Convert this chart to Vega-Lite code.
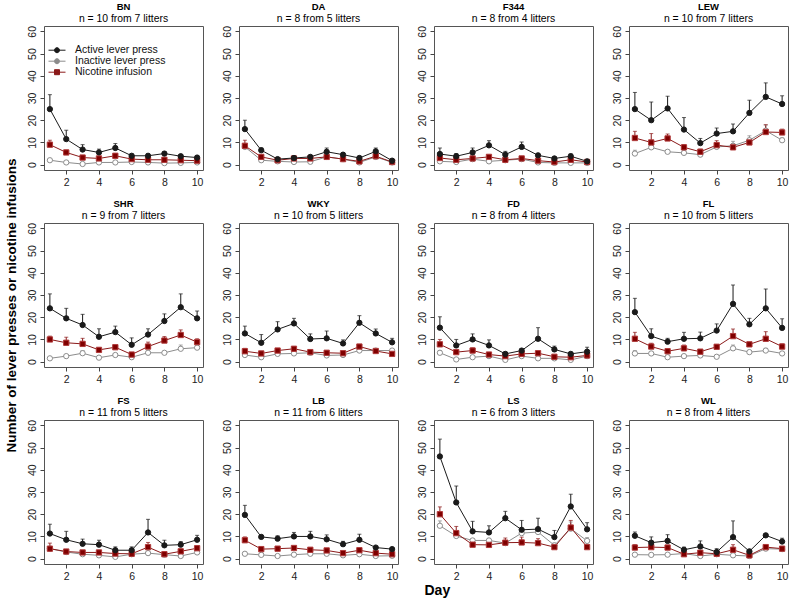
{
  "$schema": "https://vega.github.io/schema/vega-lite/v6.json",
  "padding": {"left": 3, "top": 1, "right": 5, "bottom": 2},
  "bounds": "flush",
  "columns": 4,
  "spacing": {"column": 36, "row": 53},
  "datasets": {
    "rats": [
      {"strain":"BN","day":1,"series":"Inactive lever press","mean":2,"upper":2.5},
      {"strain":"BN","day":2,"series":"Inactive lever press","mean":1,"upper":1.4},
      {"strain":"BN","day":3,"series":"Inactive lever press","mean":0.3,"upper":0.7},
      {"strain":"BN","day":4,"series":"Inactive lever press","mean":1,"upper":1.4},
      {"strain":"BN","day":5,"series":"Inactive lever press","mean":1,"upper":1.4},
      {"strain":"BN","day":6,"series":"Inactive lever press","mean":1.2,"upper":1.6},
      {"strain":"BN","day":7,"series":"Inactive lever press","mean":1,"upper":1.4},
      {"strain":"BN","day":8,"series":"Inactive lever press","mean":0.7,"upper":1.1},
      {"strain":"BN","day":9,"series":"Inactive lever press","mean":0.8,"upper":1.2},
      {"strain":"BN","day":10,"series":"Inactive lever press","mean":1,"upper":1.4},
      {"strain":"BN","day":1,"series":"Nicotine infusion","mean":9,"upper":11},
      {"strain":"BN","day":2,"series":"Nicotine infusion","mean":5.5,"upper":6.5},
      {"strain":"BN","day":3,"series":"Nicotine infusion","mean":3.2,"upper":4},
      {"strain":"BN","day":4,"series":"Nicotine infusion","mean":2.8,"upper":3.5},
      {"strain":"BN","day":5,"series":"Nicotine infusion","mean":4,"upper":5},
      {"strain":"BN","day":6,"series":"Nicotine infusion","mean":2.5,"upper":3},
      {"strain":"BN","day":7,"series":"Nicotine infusion","mean":2.2,"upper":2.8},
      {"strain":"BN","day":8,"series":"Nicotine infusion","mean":2.2,"upper":3},
      {"strain":"BN","day":9,"series":"Nicotine infusion","mean":2,"upper":2.6},
      {"strain":"BN","day":10,"series":"Nicotine infusion","mean":1.8,"upper":2.3},
      {"strain":"BN","day":1,"series":"Active lever press","mean":25,"upper":31.5},
      {"strain":"BN","day":2,"series":"Active lever press","mean":11.5,"upper":15.5},
      {"strain":"BN","day":3,"series":"Active lever press","mean":6.8,"upper":9},
      {"strain":"BN","day":4,"series":"Active lever press","mean":5.5,"upper":7},
      {"strain":"BN","day":5,"series":"Active lever press","mean":7.5,"upper":9.5},
      {"strain":"BN","day":6,"series":"Active lever press","mean":4,"upper":4.8},
      {"strain":"BN","day":7,"series":"Active lever press","mean":4,"upper":4.8},
      {"strain":"BN","day":8,"series":"Active lever press","mean":5,"upper":5.8},
      {"strain":"BN","day":9,"series":"Active lever press","mean":3.8,"upper":4.5},
      {"strain":"BN","day":10,"series":"Active lever press","mean":3.2,"upper":4},

      {"strain":"DA","day":1,"series":"Inactive lever press","mean":8,"upper":9},
      {"strain":"DA","day":2,"series":"Inactive lever press","mean":2,"upper":2.5},
      {"strain":"DA","day":3,"series":"Inactive lever press","mean":1.5,"upper":1.9},
      {"strain":"DA","day":4,"series":"Inactive lever press","mean":1.2,"upper":1.6},
      {"strain":"DA","day":5,"series":"Inactive lever press","mean":1.3,"upper":1.7},
      {"strain":"DA","day":6,"series":"Inactive lever press","mean":3.5,"upper":4.2},
      {"strain":"DA","day":7,"series":"Inactive lever press","mean":2.5,"upper":3},
      {"strain":"DA","day":8,"series":"Inactive lever press","mean":1,"upper":1.4},
      {"strain":"DA","day":9,"series":"Inactive lever press","mean":3.5,"upper":4},
      {"strain":"DA","day":10,"series":"Inactive lever press","mean":1,"upper":1.4},
      {"strain":"DA","day":1,"series":"Nicotine infusion","mean":8.5,"upper":11},
      {"strain":"DA","day":2,"series":"Nicotine infusion","mean":3.5,"upper":4.2},
      {"strain":"DA","day":3,"series":"Nicotine infusion","mean":2,"upper":2.5},
      {"strain":"DA","day":4,"series":"Nicotine infusion","mean":2.8,"upper":3.3},
      {"strain":"DA","day":5,"series":"Nicotine infusion","mean":2.8,"upper":3.5},
      {"strain":"DA","day":6,"series":"Nicotine infusion","mean":3.5,"upper":4.5},
      {"strain":"DA","day":7,"series":"Nicotine infusion","mean":2.5,"upper":3},
      {"strain":"DA","day":8,"series":"Nicotine infusion","mean":1.5,"upper":2},
      {"strain":"DA","day":9,"series":"Nicotine infusion","mean":3.8,"upper":4.8},
      {"strain":"DA","day":10,"series":"Nicotine infusion","mean":1.2,"upper":1.8},
      {"strain":"DA","day":1,"series":"Active lever press","mean":16,"upper":20},
      {"strain":"DA","day":2,"series":"Active lever press","mean":6.5,"upper":7.5},
      {"strain":"DA","day":3,"series":"Active lever press","mean":2.5,"upper":3},
      {"strain":"DA","day":4,"series":"Active lever press","mean":3,"upper":3.6},
      {"strain":"DA","day":5,"series":"Active lever press","mean":3.5,"upper":4.2},
      {"strain":"DA","day":6,"series":"Active lever press","mean":5.8,"upper":7.5},
      {"strain":"DA","day":7,"series":"Active lever press","mean":4.5,"upper":5.2},
      {"strain":"DA","day":8,"series":"Active lever press","mean":3,"upper":3.8},
      {"strain":"DA","day":9,"series":"Active lever press","mean":6,"upper":7.5},
      {"strain":"DA","day":10,"series":"Active lever press","mean":1.8,"upper":2.2},

      {"strain":"F344","day":1,"series":"Inactive lever press","mean":1.5,"upper":2.2},
      {"strain":"F344","day":2,"series":"Inactive lever press","mean":1.2,"upper":1.6},
      {"strain":"F344","day":3,"series":"Inactive lever press","mean":2.5,"upper":3},
      {"strain":"F344","day":4,"series":"Inactive lever press","mean":1.5,"upper":1.9},
      {"strain":"F344","day":5,"series":"Inactive lever press","mean":2,"upper":2.4},
      {"strain":"F344","day":6,"series":"Inactive lever press","mean":2.5,"upper":2.9},
      {"strain":"F344","day":7,"series":"Inactive lever press","mean":1,"upper":1.4},
      {"strain":"F344","day":8,"series":"Inactive lever press","mean":0.8,"upper":1.2},
      {"strain":"F344","day":9,"series":"Inactive lever press","mean":0.8,"upper":1.2},
      {"strain":"F344","day":10,"series":"Inactive lever press","mean":0.8,"upper":1.2},
      {"strain":"F344","day":1,"series":"Nicotine infusion","mean":3,"upper":4.5},
      {"strain":"F344","day":2,"series":"Nicotine infusion","mean":2.2,"upper":3},
      {"strain":"F344","day":3,"series":"Nicotine infusion","mean":2.8,"upper":3.5},
      {"strain":"F344","day":4,"series":"Nicotine infusion","mean":3.5,"upper":4.2},
      {"strain":"F344","day":5,"series":"Nicotine infusion","mean":2.2,"upper":2.8},
      {"strain":"F344","day":6,"series":"Nicotine infusion","mean":2.8,"upper":3.3},
      {"strain":"F344","day":7,"series":"Nicotine infusion","mean":1.8,"upper":2.3},
      {"strain":"F344","day":8,"series":"Nicotine infusion","mean":1.2,"upper":1.6},
      {"strain":"F344","day":9,"series":"Nicotine infusion","mean":2.2,"upper":3},
      {"strain":"F344","day":10,"series":"Nicotine infusion","mean":1.2,"upper":1.6},
      {"strain":"F344","day":1,"series":"Active lever press","mean":4.8,"upper":7.5},
      {"strain":"F344","day":2,"series":"Active lever press","mean":3.8,"upper":5},
      {"strain":"F344","day":3,"series":"Active lever press","mean":5.5,"upper":7.5},
      {"strain":"F344","day":4,"series":"Active lever press","mean":8.7,"upper":10.8},
      {"strain":"F344","day":5,"series":"Active lever press","mean":4.5,"upper":6},
      {"strain":"F344","day":6,"series":"Active lever press","mean":8,"upper":10.2},
      {"strain":"F344","day":7,"series":"Active lever press","mean":4.2,"upper":5},
      {"strain":"F344","day":8,"series":"Active lever press","mean":2.8,"upper":3.5},
      {"strain":"F344","day":9,"series":"Active lever press","mean":3.8,"upper":4.8},
      {"strain":"F344","day":10,"series":"Active lever press","mean":1.5,"upper":2},

      {"strain":"LEW","day":1,"series":"Inactive lever press","mean":5,"upper":6.5},
      {"strain":"LEW","day":2,"series":"Inactive lever press","mean":7.8,"upper":8.5},
      {"strain":"LEW","day":3,"series":"Inactive lever press","mean":5.8,"upper":6.5},
      {"strain":"LEW","day":4,"series":"Inactive lever press","mean":5.3,"upper":5.8},
      {"strain":"LEW","day":5,"series":"Inactive lever press","mean":4.5,"upper":5},
      {"strain":"LEW","day":6,"series":"Inactive lever press","mean":8,"upper":9.2},
      {"strain":"LEW","day":7,"series":"Inactive lever press","mean":8.5,"upper":10.5},
      {"strain":"LEW","day":8,"series":"Inactive lever press","mean":11,"upper":13},
      {"strain":"LEW","day":9,"series":"Inactive lever press","mean":15.3,"upper":17.8},
      {"strain":"LEW","day":10,"series":"Inactive lever press","mean":11,"upper":12},
      {"strain":"LEW","day":1,"series":"Nicotine infusion","mean":12,"upper":15},
      {"strain":"LEW","day":2,"series":"Nicotine infusion","mean":10,"upper":14},
      {"strain":"LEW","day":3,"series":"Nicotine infusion","mean":11.8,"upper":13.8},
      {"strain":"LEW","day":4,"series":"Nicotine infusion","mean":7.8,"upper":9},
      {"strain":"LEW","day":5,"series":"Nicotine infusion","mean":5.8,"upper":7},
      {"strain":"LEW","day":6,"series":"Nicotine infusion","mean":8.8,"upper":10.8},
      {"strain":"LEW","day":7,"series":"Nicotine infusion","mean":7.8,"upper":9.5},
      {"strain":"LEW","day":8,"series":"Nicotine infusion","mean":10,"upper":11.8},
      {"strain":"LEW","day":9,"series":"Nicotine infusion","mean":14.7,"upper":18},
      {"strain":"LEW","day":10,"series":"Nicotine infusion","mean":14.5,"upper":16},
      {"strain":"LEW","day":1,"series":"Active lever press","mean":25,"upper":32.5},
      {"strain":"LEW","day":2,"series":"Active lever press","mean":20,"upper":28.2},
      {"strain":"LEW","day":3,"series":"Active lever press","mean":25.3,"upper":30.8},
      {"strain":"LEW","day":4,"series":"Active lever press","mean":15.8,"upper":21.2},
      {"strain":"LEW","day":5,"series":"Active lever press","mean":9.7,"upper":11.8},
      {"strain":"LEW","day":6,"series":"Active lever press","mean":14,"upper":16.5},
      {"strain":"LEW","day":7,"series":"Active lever press","mean":15,"upper":18.3},
      {"strain":"LEW","day":8,"series":"Active lever press","mean":23.3,"upper":29},
      {"strain":"LEW","day":9,"series":"Active lever press","mean":30.5,"upper":36.8},
      {"strain":"LEW","day":10,"series":"Active lever press","mean":27.3,"upper":31},

      {"strain":"SHR","day":1,"series":"Inactive lever press","mean":1.5,"upper":2},
      {"strain":"SHR","day":2,"series":"Inactive lever press","mean":2.5,"upper":3},
      {"strain":"SHR","day":3,"series":"Inactive lever press","mean":3.8,"upper":5},
      {"strain":"SHR","day":4,"series":"Inactive lever press","mean":1.8,"upper":2.2},
      {"strain":"SHR","day":5,"series":"Inactive lever press","mean":3,"upper":3.5},
      {"strain":"SHR","day":6,"series":"Inactive lever press","mean":2,"upper":2.5},
      {"strain":"SHR","day":7,"series":"Inactive lever press","mean":4,"upper":4.5},
      {"strain":"SHR","day":8,"series":"Inactive lever press","mean":4,"upper":4.5},
      {"strain":"SHR","day":9,"series":"Inactive lever press","mean":5.8,"upper":7.5},
      {"strain":"SHR","day":10,"series":"Inactive lever press","mean":6.3,"upper":7},
      {"strain":"SHR","day":1,"series":"Nicotine infusion","mean":10,"upper":11.5},
      {"strain":"SHR","day":2,"series":"Nicotine infusion","mean":8.5,"upper":11},
      {"strain":"SHR","day":3,"series":"Nicotine infusion","mean":8,"upper":10.5},
      {"strain":"SHR","day":4,"series":"Nicotine infusion","mean":5.3,"upper":6},
      {"strain":"SHR","day":5,"series":"Nicotine infusion","mean":6.5,"upper":7.3},
      {"strain":"SHR","day":6,"series":"Nicotine infusion","mean":3.2,"upper":4},
      {"strain":"SHR","day":7,"series":"Nicotine infusion","mean":6.8,"upper":8.8},
      {"strain":"SHR","day":8,"series":"Nicotine infusion","mean":9.5,"upper":11.3},
      {"strain":"SHR","day":9,"series":"Nicotine infusion","mean":12,"upper":14.3},
      {"strain":"SHR","day":10,"series":"Nicotine infusion","mean":8.8,"upper":10.3},
      {"strain":"SHR","day":1,"series":"Active lever press","mean":24,"upper":30.5},
      {"strain":"SHR","day":2,"series":"Active lever press","mean":19.5,"upper":24},
      {"strain":"SHR","day":3,"series":"Active lever press","mean":16.5,"upper":21.3},
      {"strain":"SHR","day":4,"series":"Active lever press","mean":11.2,"upper":14.8},
      {"strain":"SHR","day":5,"series":"Active lever press","mean":13.3,"upper":16},
      {"strain":"SHR","day":6,"series":"Active lever press","mean":7.6,"upper":10.7},
      {"strain":"SHR","day":7,"series":"Active lever press","mean":12.2,"upper":14.8},
      {"strain":"SHR","day":8,"series":"Active lever press","mean":18.3,"upper":21.5},
      {"strain":"SHR","day":9,"series":"Active lever press","mean":24.5,"upper":30.5},
      {"strain":"SHR","day":10,"series":"Active lever press","mean":19.5,"upper":22.8},

      {"strain":"WKY","day":1,"series":"Inactive lever press","mean":3,"upper":3.8},
      {"strain":"WKY","day":2,"series":"Inactive lever press","mean":2,"upper":2.4},
      {"strain":"WKY","day":3,"series":"Inactive lever press","mean":3.5,"upper":3.9},
      {"strain":"WKY","day":4,"series":"Inactive lever press","mean":3.7,"upper":4.1},
      {"strain":"WKY","day":5,"series":"Inactive lever press","mean":4,"upper":4.4},
      {"strain":"WKY","day":6,"series":"Inactive lever press","mean":2.8,"upper":3.2},
      {"strain":"WKY","day":7,"series":"Inactive lever press","mean":3,"upper":3.4},
      {"strain":"WKY","day":8,"series":"Inactive lever press","mean":5,"upper":5.4},
      {"strain":"WKY","day":9,"series":"Inactive lever press","mean":5,"upper":5.4},
      {"strain":"WKY","day":10,"series":"Inactive lever press","mean":5,"upper":5.4},
      {"strain":"WKY","day":1,"series":"Nicotine infusion","mean":4.7,"upper":6},
      {"strain":"WKY","day":2,"series":"Nicotine infusion","mean":3.7,"upper":4.5},
      {"strain":"WKY","day":3,"series":"Nicotine infusion","mean":5,"upper":5.8},
      {"strain":"WKY","day":4,"series":"Nicotine infusion","mean":5.8,"upper":6.8},
      {"strain":"WKY","day":5,"series":"Nicotine infusion","mean":4.3,"upper":5},
      {"strain":"WKY","day":6,"series":"Nicotine infusion","mean":4,"upper":4.8},
      {"strain":"WKY","day":7,"series":"Nicotine infusion","mean":3.8,"upper":4.3},
      {"strain":"WKY","day":8,"series":"Nicotine infusion","mean":6.8,"upper":7.5},
      {"strain":"WKY","day":9,"series":"Nicotine infusion","mean":4.8,"upper":5.5},
      {"strain":"WKY","day":10,"series":"Nicotine infusion","mean":3.5,"upper":4.5},
      {"strain":"WKY","day":1,"series":"Active lever press","mean":12.7,"upper":16},
      {"strain":"WKY","day":2,"series":"Active lever press","mean":8.5,"upper":12.2},
      {"strain":"WKY","day":3,"series":"Active lever press","mean":14.5,"upper":18},
      {"strain":"WKY","day":4,"series":"Active lever press","mean":17.2,"upper":19.5},
      {"strain":"WKY","day":5,"series":"Active lever press","mean":10.2,"upper":12.5},
      {"strain":"WKY","day":6,"series":"Active lever press","mean":10.5,"upper":13.8},
      {"strain":"WKY","day":7,"series":"Active lever press","mean":8.2,"upper":9.8},
      {"strain":"WKY","day":8,"series":"Active lever press","mean":17.5,"upper":20.7},
      {"strain":"WKY","day":9,"series":"Active lever press","mean":12.7,"upper":14.7},
      {"strain":"WKY","day":10,"series":"Active lever press","mean":8.7,"upper":10.5},

      {"strain":"FD","day":1,"series":"Inactive lever press","mean":4,"upper":5},
      {"strain":"FD","day":2,"series":"Inactive lever press","mean":1,"upper":1.4},
      {"strain":"FD","day":3,"series":"Inactive lever press","mean":2,"upper":2.4},
      {"strain":"FD","day":4,"series":"Inactive lever press","mean":2.5,"upper":2.9},
      {"strain":"FD","day":5,"series":"Inactive lever press","mean":0.8,"upper":1.2},
      {"strain":"FD","day":6,"series":"Inactive lever press","mean":2.5,"upper":2.9},
      {"strain":"FD","day":7,"series":"Inactive lever press","mean":1.5,"upper":1.9},
      {"strain":"FD","day":8,"series":"Inactive lever press","mean":1.5,"upper":1.9},
      {"strain":"FD","day":9,"series":"Inactive lever press","mean":0.8,"upper":1.2},
      {"strain":"FD","day":10,"series":"Inactive lever press","mean":2.5,"upper":2.9},
      {"strain":"FD","day":1,"series":"Nicotine infusion","mean":7.8,"upper":10},
      {"strain":"FD","day":2,"series":"Nicotine infusion","mean":4.3,"upper":5.5},
      {"strain":"FD","day":3,"series":"Nicotine infusion","mean":5,"upper":6.2},
      {"strain":"FD","day":4,"series":"Nicotine infusion","mean":3.2,"upper":4},
      {"strain":"FD","day":5,"series":"Nicotine infusion","mean":2.5,"upper":3},
      {"strain":"FD","day":6,"series":"Nicotine infusion","mean":3.5,"upper":4},
      {"strain":"FD","day":7,"series":"Nicotine infusion","mean":3.8,"upper":4.5},
      {"strain":"FD","day":8,"series":"Nicotine infusion","mean":2.2,"upper":2.8},
      {"strain":"FD","day":9,"series":"Nicotine infusion","mean":2,"upper":2.5},
      {"strain":"FD","day":10,"series":"Nicotine infusion","mean":2.8,"upper":3.5},
      {"strain":"FD","day":1,"series":"Active lever press","mean":15.3,"upper":20.2},
      {"strain":"FD","day":2,"series":"Active lever press","mean":7.3,"upper":10},
      {"strain":"FD","day":3,"series":"Active lever press","mean":10,"upper":12.5},
      {"strain":"FD","day":4,"series":"Active lever press","mean":7.3,"upper":9.8},
      {"strain":"FD","day":5,"series":"Active lever press","mean":3.5,"upper":4.3},
      {"strain":"FD","day":6,"series":"Active lever press","mean":5,"upper":5.8},
      {"strain":"FD","day":7,"series":"Active lever press","mean":10.3,"upper":15.3},
      {"strain":"FD","day":8,"series":"Active lever press","mean":5.5,"upper":7},
      {"strain":"FD","day":9,"series":"Active lever press","mean":3.5,"upper":4.2},
      {"strain":"FD","day":10,"series":"Active lever press","mean":4.5,"upper":6.5},

      {"strain":"FL","day":1,"series":"Inactive lever press","mean":3.7,"upper":5},
      {"strain":"FL","day":2,"series":"Inactive lever press","mean":3.7,"upper":4.2},
      {"strain":"FL","day":3,"series":"Inactive lever press","mean":2,"upper":2.5},
      {"strain":"FL","day":4,"series":"Inactive lever press","mean":2.5,"upper":3},
      {"strain":"FL","day":5,"series":"Inactive lever press","mean":2.8,"upper":3.3},
      {"strain":"FL","day":6,"series":"Inactive lever press","mean":2.2,"upper":2.7},
      {"strain":"FL","day":7,"series":"Inactive lever press","mean":6,"upper":7.5},
      {"strain":"FL","day":8,"series":"Inactive lever press","mean":4.3,"upper":5},
      {"strain":"FL","day":9,"series":"Inactive lever press","mean":5,"upper":6},
      {"strain":"FL","day":10,"series":"Inactive lever press","mean":3.7,"upper":4.5},
      {"strain":"FL","day":1,"series":"Nicotine infusion","mean":10.3,"upper":13.2},
      {"strain":"FL","day":2,"series":"Nicotine infusion","mean":6.8,"upper":8.3},
      {"strain":"FL","day":3,"series":"Nicotine infusion","mean":4.7,"upper":5.5},
      {"strain":"FL","day":4,"series":"Nicotine infusion","mean":6,"upper":7.5},
      {"strain":"FL","day":5,"series":"Nicotine infusion","mean":4.5,"upper":5.2},
      {"strain":"FL","day":6,"series":"Nicotine infusion","mean":6.7,"upper":7.5},
      {"strain":"FL","day":7,"series":"Nicotine infusion","mean":11.5,"upper":14.7},
      {"strain":"FL","day":8,"series":"Nicotine infusion","mean":7.8,"upper":8.5},
      {"strain":"FL","day":9,"series":"Nicotine infusion","mean":10.3,"upper":13.5},
      {"strain":"FL","day":10,"series":"Nicotine infusion","mean":6.8,"upper":8},
      {"strain":"FL","day":1,"series":"Active lever press","mean":22.3,"upper":28.5},
      {"strain":"FL","day":2,"series":"Active lever press","mean":11.5,"upper":14.8},
      {"strain":"FL","day":3,"series":"Active lever press","mean":9,"upper":10.5},
      {"strain":"FL","day":4,"series":"Active lever press","mean":10.3,"upper":13.2},
      {"strain":"FL","day":5,"series":"Active lever press","mean":10.5,"upper":13.3},
      {"strain":"FL","day":6,"series":"Active lever press","mean":14,"upper":17},
      {"strain":"FL","day":7,"series":"Active lever press","mean":26,"upper":34.5},
      {"strain":"FL","day":8,"series":"Active lever press","mean":16.8,"upper":19.5},
      {"strain":"FL","day":9,"series":"Active lever press","mean":24,"upper":32.7},
      {"strain":"FL","day":10,"series":"Active lever press","mean":15.2,"upper":19.3},

      {"strain":"FS","day":1,"series":"Inactive lever press","mean":4.5,"upper":5.5},
      {"strain":"FS","day":2,"series":"Inactive lever press","mean":3,"upper":3.5},
      {"strain":"FS","day":3,"series":"Inactive lever press","mean":2,"upper":2.4},
      {"strain":"FS","day":4,"series":"Inactive lever press","mean":1.5,"upper":1.9},
      {"strain":"FS","day":5,"series":"Inactive lever press","mean":0.8,"upper":1.2},
      {"strain":"FS","day":6,"series":"Inactive lever press","mean":2,"upper":2.4},
      {"strain":"FS","day":7,"series":"Inactive lever press","mean":2.5,"upper":2.9},
      {"strain":"FS","day":8,"series":"Inactive lever press","mean":1.8,"upper":2.2},
      {"strain":"FS","day":9,"series":"Inactive lever press","mean":1.2,"upper":1.6},
      {"strain":"FS","day":10,"series":"Inactive lever press","mean":2.8,"upper":3.2},
      {"strain":"FS","day":1,"series":"Nicotine infusion","mean":4.5,"upper":7},
      {"strain":"FS","day":2,"series":"Nicotine infusion","mean":3.2,"upper":3.8},
      {"strain":"FS","day":3,"series":"Nicotine infusion","mean":2.8,"upper":3.5},
      {"strain":"FS","day":4,"series":"Nicotine infusion","mean":2.8,"upper":3.5},
      {"strain":"FS","day":5,"series":"Nicotine infusion","mean":2.3,"upper":3},
      {"strain":"FS","day":6,"series":"Nicotine infusion","mean":2.2,"upper":3},
      {"strain":"FS","day":7,"series":"Nicotine infusion","mean":5.2,"upper":7.3},
      {"strain":"FS","day":8,"series":"Nicotine infusion","mean":2,"upper":2.5},
      {"strain":"FS","day":9,"series":"Nicotine infusion","mean":3.3,"upper":4.2},
      {"strain":"FS","day":10,"series":"Nicotine infusion","mean":4.7,"upper":5.7},
      {"strain":"FS","day":1,"series":"Active lever press","mean":11.3,"upper":15.5},
      {"strain":"FS","day":2,"series":"Active lever press","mean":8.5,"upper":12.3},
      {"strain":"FS","day":3,"series":"Active lever press","mean":6.7,"upper":8.8},
      {"strain":"FS","day":4,"series":"Active lever press","mean":6.3,"upper":8.3},
      {"strain":"FS","day":5,"series":"Active lever press","mean":3.8,"upper":5.3},
      {"strain":"FS","day":6,"series":"Active lever press","mean":3.8,"upper":5.3},
      {"strain":"FS","day":7,"series":"Active lever press","mean":11.8,"upper":17.7},
      {"strain":"FS","day":8,"series":"Active lever press","mean":6,"upper":8.3},
      {"strain":"FS","day":9,"series":"Active lever press","mean":6.3,"upper":7.7},
      {"strain":"FS","day":10,"series":"Active lever press","mean":8.5,"upper":10.5},

      {"strain":"LB","day":1,"series":"Inactive lever press","mean":2.2,"upper":2.7},
      {"strain":"LB","day":2,"series":"Inactive lever press","mean":1.7,"upper":2.1},
      {"strain":"LB","day":3,"series":"Inactive lever press","mean":1.2,"upper":1.6},
      {"strain":"LB","day":4,"series":"Inactive lever press","mean":1.8,"upper":2.2},
      {"strain":"LB","day":5,"series":"Inactive lever press","mean":2.2,"upper":2.6},
      {"strain":"LB","day":6,"series":"Inactive lever press","mean":2.2,"upper":2.6},
      {"strain":"LB","day":7,"series":"Inactive lever press","mean":1.5,"upper":1.9},
      {"strain":"LB","day":8,"series":"Inactive lever press","mean":2,"upper":2.4},
      {"strain":"LB","day":9,"series":"Inactive lever press","mean":1.2,"upper":1.6},
      {"strain":"LB","day":10,"series":"Inactive lever press","mean":1.3,"upper":1.7},
      {"strain":"LB","day":1,"series":"Nicotine infusion","mean":8.3,"upper":9.8},
      {"strain":"LB","day":2,"series":"Nicotine infusion","mean":4.3,"upper":5},
      {"strain":"LB","day":3,"series":"Nicotine infusion","mean":4.5,"upper":5.2},
      {"strain":"LB","day":4,"series":"Nicotine infusion","mean":4.8,"upper":5.5},
      {"strain":"LB","day":5,"series":"Nicotine infusion","mean":4,"upper":4.8},
      {"strain":"LB","day":6,"series":"Nicotine infusion","mean":3.7,"upper":4.3},
      {"strain":"LB","day":7,"series":"Nicotine infusion","mean":2.5,"upper":3.2},
      {"strain":"LB","day":8,"series":"Nicotine infusion","mean":3.8,"upper":4.5},
      {"strain":"LB","day":9,"series":"Nicotine infusion","mean":2.5,"upper":3},
      {"strain":"LB","day":10,"series":"Nicotine infusion","mean":2,"upper":2.5},
      {"strain":"LB","day":1,"series":"Active lever press","mean":19.7,"upper":24},
      {"strain":"LB","day":2,"series":"Active lever press","mean":9.8,"upper":10.5},
      {"strain":"LB","day":3,"series":"Active lever press","mean":9,"upper":10.3},
      {"strain":"LB","day":4,"series":"Active lever press","mean":10,"upper":11.8},
      {"strain":"LB","day":5,"series":"Active lever press","mean":10,"upper":12.3},
      {"strain":"LB","day":6,"series":"Active lever press","mean":8.7,"upper":10.7},
      {"strain":"LB","day":7,"series":"Active lever press","mean":6.5,"upper":7.8},
      {"strain":"LB","day":8,"series":"Active lever press","mean":8.5,"upper":11},
      {"strain":"LB","day":9,"series":"Active lever press","mean":5,"upper":5.5},
      {"strain":"LB","day":10,"series":"Active lever press","mean":4.3,"upper":5},

      {"strain":"LS","day":1,"series":"Inactive lever press","mean":14.8,"upper":17},
      {"strain":"LS","day":2,"series":"Inactive lever press","mean":10.2,"upper":11},
      {"strain":"LS","day":3,"series":"Inactive lever press","mean":8.2,"upper":9},
      {"strain":"LS","day":4,"series":"Inactive lever press","mean":8.2,"upper":9},
      {"strain":"LS","day":5,"series":"Inactive lever press","mean":7,"upper":8},
      {"strain":"LS","day":6,"series":"Inactive lever press","mean":11.5,"upper":13},
      {"strain":"LS","day":7,"series":"Inactive lever press","mean":12,"upper":13.2},
      {"strain":"LS","day":8,"series":"Inactive lever press","mean":6,"upper":7},
      {"strain":"LS","day":9,"series":"Inactive lever press","mean":13.5,"upper":16.5},
      {"strain":"LS","day":10,"series":"Inactive lever press","mean":8,"upper":9.5},
      {"strain":"LS","day":1,"series":"Nicotine infusion","mean":20,"upper":23.3},
      {"strain":"LS","day":2,"series":"Nicotine infusion","mean":11.5,"upper":14.5},
      {"strain":"LS","day":3,"series":"Nicotine infusion","mean":6.3,"upper":7.5},
      {"strain":"LS","day":4,"series":"Nicotine infusion","mean":6.2,"upper":7.2},
      {"strain":"LS","day":5,"series":"Nicotine infusion","mean":7.2,"upper":9.3},
      {"strain":"LS","day":6,"series":"Nicotine infusion","mean":7.3,"upper":9.7},
      {"strain":"LS","day":7,"series":"Nicotine infusion","mean":7,"upper":9},
      {"strain":"LS","day":8,"series":"Nicotine infusion","mean":5.2,"upper":6.7},
      {"strain":"LS","day":9,"series":"Nicotine infusion","mean":14,"upper":17.2},
      {"strain":"LS","day":10,"series":"Nicotine infusion","mean":5.2,"upper":6.2},
      {"strain":"LS","day":1,"series":"Active lever press","mean":46,"upper":53.8},
      {"strain":"LS","day":2,"series":"Active lever press","mean":25.3,"upper":32.7},
      {"strain":"LS","day":3,"series":"Active lever press","mean":12.3,"upper":16.8},
      {"strain":"LS","day":4,"series":"Active lever press","mean":11.8,"upper":14.8},
      {"strain":"LS","day":5,"series":"Active lever press","mean":18.2,"upper":21.3},
      {"strain":"LS","day":6,"series":"Active lever press","mean":13,"upper":17.2},
      {"strain":"LS","day":7,"series":"Active lever press","mean":13.3,"upper":18.2},
      {"strain":"LS","day":8,"series":"Active lever press","mean":9.7,"upper":12.7},
      {"strain":"LS","day":9,"series":"Active lever press","mean":23.5,"upper":29},
      {"strain":"LS","day":10,"series":"Active lever press","mean":13.2,"upper":16.2},

      {"strain":"WL","day":1,"series":"Inactive lever press","mean":1.8,"upper":2.2},
      {"strain":"WL","day":2,"series":"Inactive lever press","mean":1.7,"upper":2.1},
      {"strain":"WL","day":3,"series":"Inactive lever press","mean":1.8,"upper":2.2},
      {"strain":"WL","day":4,"series":"Inactive lever press","mean":2.3,"upper":2.7},
      {"strain":"WL","day":5,"series":"Inactive lever press","mean":1.2,"upper":1.6},
      {"strain":"WL","day":6,"series":"Inactive lever press","mean":2,"upper":2.4},
      {"strain":"WL","day":7,"series":"Inactive lever press","mean":1.5,"upper":1.9},
      {"strain":"WL","day":8,"series":"Inactive lever press","mean":1.2,"upper":1.6},
      {"strain":"WL","day":9,"series":"Inactive lever press","mean":4.5,"upper":4.9},
      {"strain":"WL","day":10,"series":"Inactive lever press","mean":4.3,"upper":4.7},
      {"strain":"WL","day":1,"series":"Nicotine infusion","mean":5,"upper":6.3},
      {"strain":"WL","day":2,"series":"Nicotine infusion","mean":5.2,"upper":6},
      {"strain":"WL","day":3,"series":"Nicotine infusion","mean":5,"upper":6},
      {"strain":"WL","day":4,"series":"Nicotine infusion","mean":2,"upper":2.5},
      {"strain":"WL","day":5,"series":"Nicotine infusion","mean":2.7,"upper":3.3},
      {"strain":"WL","day":6,"series":"Nicotine infusion","mean":2.2,"upper":3},
      {"strain":"WL","day":7,"series":"Nicotine infusion","mean":4,"upper":6.3},
      {"strain":"WL","day":8,"series":"Nicotine infusion","mean":1.5,"upper":2},
      {"strain":"WL","day":9,"series":"Nicotine infusion","mean":5.2,"upper":6},
      {"strain":"WL","day":10,"series":"Nicotine infusion","mean":4.5,"upper":5.3},
      {"strain":"WL","day":1,"series":"Active lever press","mean":10.3,"upper":12},
      {"strain":"WL","day":2,"series":"Active lever press","mean":7.2,"upper":9.8},
      {"strain":"WL","day":3,"series":"Active lever press","mean":8,"upper":10.8},
      {"strain":"WL","day":4,"series":"Active lever press","mean":4,"upper":5.2},
      {"strain":"WL","day":5,"series":"Active lever press","mean":5.5,"upper":8},
      {"strain":"WL","day":6,"series":"Active lever press","mean":3,"upper":4.5},
      {"strain":"WL","day":7,"series":"Active lever press","mean":9.7,"upper":17},
      {"strain":"WL","day":8,"series":"Active lever press","mean":3.3,"upper":3.8},
      {"strain":"WL","day":9,"series":"Active lever press","mean":10.5,"upper":11.3},
      {"strain":"WL","day":10,"series":"Active lever press","mean":7.7,"upper":9.2}
    ]
  },
  "data": {"name": "rats"},
  "concat": [
    {
      "title": {"text": "BN", "subtitle": "n = 10 from 7 litters"},
      "width": 159, "height": 144,
      "transform": [{"filter": "datum.strain == 'BN'"}],
      "encoding": {
        "x": {"field": "day", "type": "quantitative", "scale": {"domain": [0.64, 10.36], "nice": false, "zero": false}, "title": null},
        "y": {"field": "mean", "type": "quantitative", "scale": {"domain": [-2.4, 62.4], "nice": false, "zero": false}, "title": "Number of lever presses or nicotine infusions",
          "axis": {"titleFontSize": 13.5, "titleFontWeight": "bold", "titleColor": "#000", "titlePadding": 9, "titleY": 279}}
      },
      "layer": [
        {"mark": {"type": "line", "strokeWidth": 1}, "encoding": {"color": {"field": "series", "type": "nominal", "legend": {
          "orient": "none", "legendX": 7.5, "legendY": 18.7, "title": null, "padding": 0, "labelFontSize": 10.5, "labelColor": "#111", "labelOffset": 12.5, "rowPadding": -1.3, "symbolSize": 100,
          "encode": {"symbols": {"update": {
            "shape": {"signal": "datum.value == 'Active lever press' ? 'M-1.7,0H1.7M0.5,0A0.5,0.5,0,1,1,-0.5,0A0.5,0.5,0,1,1,0.5,0Z' : datum.value == 'Inactive lever press' ? 'M-1.7,0H-0.5M0.5,0H1.7M0.5,0A0.5,0.5,0,1,1,-0.5,0A0.5,0.5,0,1,1,0.5,0Z' : 'M-1.7,0H1.7M-0.5,-0.5H0.5V0.5H-0.5Z'"},
            "fill": {"signal": "datum.value == 'Active lever press' ? '#1a1a1a' : datum.value == 'Inactive lever press' ? '#ffffff' : '#800000'"},
            "stroke": {"signal": "datum.value == 'Active lever press' ? '#1a1a1a' : datum.value == 'Inactive lever press' ? '#8c8c8c' : '#a02a2a'"},
            "strokeWidth": {"value": 1},
            "opacity": {"value": 1}
          }}}
        }}}},
        {"mark": {"type": "rule", "strokeWidth": 1}, "encoding": {"y2": {"field": "upper"}, "color": {"field": "series", "type": "nominal", "legend": null}}},
        {"mark": {"type": "tick", "orient": "horizontal", "size": 4, "thickness": 1}, "encoding": {"y": {"field": "upper", "type": "quantitative", "scale": {"domain": [-2.4, 62.4], "nice": false, "zero": false}, "title": "Number of lever presses or nicotine infusions"}, "color": {"field": "series", "type": "nominal", "legend": null}}},
        {"mark": {"type": "point", "filled": true, "opacity": 1, "size": 28, "strokeWidth": 1}, "encoding": {
          "shape": {"field": "series", "type": "nominal", "scale": {"range": ["circle", "circle", "square"]}, "legend": null},
          "fill": {"field": "series", "type": "nominal", "scale": {"range": ["#1a1a1a", "#ffffff", "#800000"]}, "legend": null},
          "stroke": {"field": "series", "type": "nominal", "scale": {"range": ["#1a1a1a", "#8c8c8c", "#b03a3a"]}, "legend": null}
        }}
      ]
    },
    {
      "title": {"text": "DA", "subtitle": "n = 8 from 5 litters"},
      "width": 159, "height": 144,
      "transform": [{"filter": "datum.strain == 'DA'"}],
      "encoding": {
        "x": {"field": "day", "type": "quantitative", "scale": {"domain": [0.64, 10.36], "nice": false, "zero": false}, "title": null},
        "y": {"field": "mean", "type": "quantitative", "scale": {"domain": [-2.4, 62.4], "nice": false, "zero": false}, "title": null}
      },
      "layer": [
        {"mark": {"type": "line", "strokeWidth": 1}, "encoding": {"color": {"field": "series", "type": "nominal", "legend": null}}},
        {"mark": {"type": "rule", "strokeWidth": 1}, "encoding": {"y2": {"field": "upper"}, "color": {"field": "series", "type": "nominal", "legend": null}}},
        {"mark": {"type": "tick", "orient": "horizontal", "size": 4, "thickness": 1}, "encoding": {"y": {"field": "upper", "type": "quantitative", "scale": {"domain": [-2.4, 62.4], "nice": false, "zero": false}, "title": null}, "color": {"field": "series", "type": "nominal", "legend": null}}},
        {"mark": {"type": "point", "filled": true, "opacity": 1, "size": 28, "strokeWidth": 1}, "encoding": {
          "shape": {"field": "series", "type": "nominal", "legend": null},
          "fill": {"field": "series", "type": "nominal", "legend": null},
          "stroke": {"field": "series", "type": "nominal", "legend": null}
        }}
      ]
    },
    {
      "title": {"text": "F344", "subtitle": "n = 8 from 4 litters"},
      "width": 159, "height": 144,
      "transform": [{"filter": "datum.strain == 'F344'"}],
      "encoding": {
        "x": {"field": "day", "type": "quantitative", "scale": {"domain": [0.64, 10.36], "nice": false, "zero": false}, "title": null},
        "y": {"field": "mean", "type": "quantitative", "scale": {"domain": [-2.4, 62.4], "nice": false, "zero": false}, "title": null}
      },
      "layer": [
        {"mark": {"type": "line", "strokeWidth": 1}, "encoding": {"color": {"field": "series", "type": "nominal", "legend": null}}},
        {"mark": {"type": "rule", "strokeWidth": 1}, "encoding": {"y2": {"field": "upper"}, "color": {"field": "series", "type": "nominal", "legend": null}}},
        {"mark": {"type": "tick", "orient": "horizontal", "size": 4, "thickness": 1}, "encoding": {"y": {"field": "upper", "type": "quantitative", "scale": {"domain": [-2.4, 62.4], "nice": false, "zero": false}, "title": null}, "color": {"field": "series", "type": "nominal", "legend": null}}},
        {"mark": {"type": "point", "filled": true, "opacity": 1, "size": 28, "strokeWidth": 1}, "encoding": {
          "shape": {"field": "series", "type": "nominal", "legend": null},
          "fill": {"field": "series", "type": "nominal", "legend": null},
          "stroke": {"field": "series", "type": "nominal", "legend": null}
        }}
      ]
    },
    {
      "title": {"text": "LEW", "subtitle": "n = 10 from 7 litters"},
      "width": 159, "height": 144,
      "transform": [{"filter": "datum.strain == 'LEW'"}],
      "encoding": {
        "x": {"field": "day", "type": "quantitative", "scale": {"domain": [0.64, 10.36], "nice": false, "zero": false}, "title": null},
        "y": {"field": "mean", "type": "quantitative", "scale": {"domain": [-2.4, 62.4], "nice": false, "zero": false}, "title": null}
      },
      "layer": [
        {"mark": {"type": "line", "strokeWidth": 1}, "encoding": {"color": {"field": "series", "type": "nominal", "legend": null}}},
        {"mark": {"type": "rule", "strokeWidth": 1}, "encoding": {"y2": {"field": "upper"}, "color": {"field": "series", "type": "nominal", "legend": null}}},
        {"mark": {"type": "tick", "orient": "horizontal", "size": 4, "thickness": 1}, "encoding": {"y": {"field": "upper", "type": "quantitative", "scale": {"domain": [-2.4, 62.4], "nice": false, "zero": false}, "title": null}, "color": {"field": "series", "type": "nominal", "legend": null}}},
        {"mark": {"type": "point", "filled": true, "opacity": 1, "size": 28, "strokeWidth": 1}, "encoding": {
          "shape": {"field": "series", "type": "nominal", "legend": null},
          "fill": {"field": "series", "type": "nominal", "legend": null},
          "stroke": {"field": "series", "type": "nominal", "legend": null}
        }}
      ]
    },
    {
      "title": {"text": "SHR", "subtitle": "n = 9 from 7 litters"},
      "width": 159, "height": 144,
      "transform": [{"filter": "datum.strain == 'SHR'"}],
      "encoding": {
        "x": {"field": "day", "type": "quantitative", "scale": {"domain": [0.64, 10.36], "nice": false, "zero": false}, "title": null},
        "y": {"field": "mean", "type": "quantitative", "scale": {"domain": [-2.4, 62.4], "nice": false, "zero": false}, "title": null}
      },
      "layer": [
        {"mark": {"type": "line", "strokeWidth": 1}, "encoding": {"color": {"field": "series", "type": "nominal", "legend": null}}},
        {"mark": {"type": "rule", "strokeWidth": 1}, "encoding": {"y2": {"field": "upper"}, "color": {"field": "series", "type": "nominal", "legend": null}}},
        {"mark": {"type": "tick", "orient": "horizontal", "size": 4, "thickness": 1}, "encoding": {"y": {"field": "upper", "type": "quantitative", "scale": {"domain": [-2.4, 62.4], "nice": false, "zero": false}, "title": null}, "color": {"field": "series", "type": "nominal", "legend": null}}},
        {"mark": {"type": "point", "filled": true, "opacity": 1, "size": 28, "strokeWidth": 1}, "encoding": {
          "shape": {"field": "series", "type": "nominal", "legend": null},
          "fill": {"field": "series", "type": "nominal", "legend": null},
          "stroke": {"field": "series", "type": "nominal", "legend": null}
        }}
      ]
    },
    {
      "title": {"text": "WKY", "subtitle": "n = 10 from 5 litters"},
      "width": 159, "height": 144,
      "transform": [{"filter": "datum.strain == 'WKY'"}],
      "encoding": {
        "x": {"field": "day", "type": "quantitative", "scale": {"domain": [0.64, 10.36], "nice": false, "zero": false}, "title": null},
        "y": {"field": "mean", "type": "quantitative", "scale": {"domain": [-2.4, 62.4], "nice": false, "zero": false}, "title": null}
      },
      "layer": [
        {"mark": {"type": "line", "strokeWidth": 1}, "encoding": {"color": {"field": "series", "type": "nominal", "legend": null}}},
        {"mark": {"type": "rule", "strokeWidth": 1}, "encoding": {"y2": {"field": "upper"}, "color": {"field": "series", "type": "nominal", "legend": null}}},
        {"mark": {"type": "tick", "orient": "horizontal", "size": 4, "thickness": 1}, "encoding": {"y": {"field": "upper", "type": "quantitative", "scale": {"domain": [-2.4, 62.4], "nice": false, "zero": false}, "title": null}, "color": {"field": "series", "type": "nominal", "legend": null}}},
        {"mark": {"type": "point", "filled": true, "opacity": 1, "size": 28, "strokeWidth": 1}, "encoding": {
          "shape": {"field": "series", "type": "nominal", "legend": null},
          "fill": {"field": "series", "type": "nominal", "legend": null},
          "stroke": {"field": "series", "type": "nominal", "legend": null}
        }}
      ]
    },
    {
      "title": {"text": "FD", "subtitle": "n = 8 from 4 litters"},
      "width": 159, "height": 144,
      "transform": [{"filter": "datum.strain == 'FD'"}],
      "encoding": {
        "x": {"field": "day", "type": "quantitative", "scale": {"domain": [0.64, 10.36], "nice": false, "zero": false}, "title": null},
        "y": {"field": "mean", "type": "quantitative", "scale": {"domain": [-2.4, 62.4], "nice": false, "zero": false}, "title": null}
      },
      "layer": [
        {"mark": {"type": "line", "strokeWidth": 1}, "encoding": {"color": {"field": "series", "type": "nominal", "legend": null}}},
        {"mark": {"type": "rule", "strokeWidth": 1}, "encoding": {"y2": {"field": "upper"}, "color": {"field": "series", "type": "nominal", "legend": null}}},
        {"mark": {"type": "tick", "orient": "horizontal", "size": 4, "thickness": 1}, "encoding": {"y": {"field": "upper", "type": "quantitative", "scale": {"domain": [-2.4, 62.4], "nice": false, "zero": false}, "title": null}, "color": {"field": "series", "type": "nominal", "legend": null}}},
        {"mark": {"type": "point", "filled": true, "opacity": 1, "size": 28, "strokeWidth": 1}, "encoding": {
          "shape": {"field": "series", "type": "nominal", "legend": null},
          "fill": {"field": "series", "type": "nominal", "legend": null},
          "stroke": {"field": "series", "type": "nominal", "legend": null}
        }}
      ]
    },
    {
      "title": {"text": "FL", "subtitle": "n = 10 from 5 litters"},
      "width": 159, "height": 144,
      "transform": [{"filter": "datum.strain == 'FL'"}],
      "encoding": {
        "x": {"field": "day", "type": "quantitative", "scale": {"domain": [0.64, 10.36], "nice": false, "zero": false}, "title": null},
        "y": {"field": "mean", "type": "quantitative", "scale": {"domain": [-2.4, 62.4], "nice": false, "zero": false}, "title": null}
      },
      "layer": [
        {"mark": {"type": "line", "strokeWidth": 1}, "encoding": {"color": {"field": "series", "type": "nominal", "legend": null}}},
        {"mark": {"type": "rule", "strokeWidth": 1}, "encoding": {"y2": {"field": "upper"}, "color": {"field": "series", "type": "nominal", "legend": null}}},
        {"mark": {"type": "tick", "orient": "horizontal", "size": 4, "thickness": 1}, "encoding": {"y": {"field": "upper", "type": "quantitative", "scale": {"domain": [-2.4, 62.4], "nice": false, "zero": false}, "title": null}, "color": {"field": "series", "type": "nominal", "legend": null}}},
        {"mark": {"type": "point", "filled": true, "opacity": 1, "size": 28, "strokeWidth": 1}, "encoding": {
          "shape": {"field": "series", "type": "nominal", "legend": null},
          "fill": {"field": "series", "type": "nominal", "legend": null},
          "stroke": {"field": "series", "type": "nominal", "legend": null}
        }}
      ]
    },
    {
      "title": {"text": "FS", "subtitle": "n = 11 from 5 litters"},
      "width": 159, "height": 144,
      "transform": [{"filter": "datum.strain == 'FS'"}],
      "encoding": {
        "x": {"field": "day", "type": "quantitative", "scale": {"domain": [0.64, 10.36], "nice": false, "zero": false}, "title": null},
        "y": {"field": "mean", "type": "quantitative", "scale": {"domain": [-2.4, 62.4], "nice": false, "zero": false}, "title": null}
      },
      "layer": [
        {"mark": {"type": "line", "strokeWidth": 1}, "encoding": {"color": {"field": "series", "type": "nominal", "legend": null}}},
        {"mark": {"type": "rule", "strokeWidth": 1}, "encoding": {"y2": {"field": "upper"}, "color": {"field": "series", "type": "nominal", "legend": null}}},
        {"mark": {"type": "tick", "orient": "horizontal", "size": 4, "thickness": 1}, "encoding": {"y": {"field": "upper", "type": "quantitative", "scale": {"domain": [-2.4, 62.4], "nice": false, "zero": false}, "title": null}, "color": {"field": "series", "type": "nominal", "legend": null}}},
        {"mark": {"type": "point", "filled": true, "opacity": 1, "size": 28, "strokeWidth": 1}, "encoding": {
          "shape": {"field": "series", "type": "nominal", "legend": null},
          "fill": {"field": "series", "type": "nominal", "legend": null},
          "stroke": {"field": "series", "type": "nominal", "legend": null}
        }}
      ]
    },
    {
      "title": {"text": "LB", "subtitle": "n = 11 from 6 litters"},
      "width": 159, "height": 144,
      "transform": [{"filter": "datum.strain == 'LB'"}],
      "encoding": {
        "x": {"field": "day", "type": "quantitative", "scale": {"domain": [0.64, 10.36], "nice": false, "zero": false}, "title": null},
        "y": {"field": "mean", "type": "quantitative", "scale": {"domain": [-2.4, 62.4], "nice": false, "zero": false}, "title": null}
      },
      "layer": [
        {"mark": {"type": "line", "strokeWidth": 1}, "encoding": {"color": {"field": "series", "type": "nominal", "legend": null}}},
        {"mark": {"type": "rule", "strokeWidth": 1}, "encoding": {"y2": {"field": "upper"}, "color": {"field": "series", "type": "nominal", "legend": null}}},
        {"mark": {"type": "tick", "orient": "horizontal", "size": 4, "thickness": 1}, "encoding": {"y": {"field": "upper", "type": "quantitative", "scale": {"domain": [-2.4, 62.4], "nice": false, "zero": false}, "title": null}, "color": {"field": "series", "type": "nominal", "legend": null}}},
        {"mark": {"type": "point", "filled": true, "opacity": 1, "size": 28, "strokeWidth": 1}, "encoding": {
          "shape": {"field": "series", "type": "nominal", "legend": null},
          "fill": {"field": "series", "type": "nominal", "legend": null},
          "stroke": {"field": "series", "type": "nominal", "legend": null}
        }}
      ]
    },
    {
      "title": {"text": "LS", "subtitle": "n = 6 from 3 litters"},
      "width": 159, "height": 144,
      "transform": [{"filter": "datum.strain == 'LS'"}],
      "encoding": {
        "x": {"field": "day", "type": "quantitative", "scale": {"domain": [0.64, 10.36], "nice": false, "zero": false}, "title": "Day",
          "axis": {"titleFontSize": 14, "titleFontWeight": "bold", "titleColor": "#000", "titleAnchor": "start", "titleAlign": "left", "titleX": -10, "titleY": 30, "titleBaseline": "alphabetic"}},
        "y": {"field": "mean", "type": "quantitative", "scale": {"domain": [-2.4, 62.4], "nice": false, "zero": false}, "title": null}
      },
      "layer": [
        {"mark": {"type": "line", "strokeWidth": 1}, "encoding": {"color": {"field": "series", "type": "nominal", "legend": null}}},
        {"mark": {"type": "rule", "strokeWidth": 1}, "encoding": {"y2": {"field": "upper"}, "color": {"field": "series", "type": "nominal", "legend": null}}},
        {"mark": {"type": "tick", "orient": "horizontal", "size": 4, "thickness": 1}, "encoding": {"y": {"field": "upper", "type": "quantitative", "scale": {"domain": [-2.4, 62.4], "nice": false, "zero": false}, "title": null}, "color": {"field": "series", "type": "nominal", "legend": null}}},
        {"mark": {"type": "point", "filled": true, "opacity": 1, "size": 28, "strokeWidth": 1}, "encoding": {
          "shape": {"field": "series", "type": "nominal", "legend": null},
          "fill": {"field": "series", "type": "nominal", "legend": null},
          "stroke": {"field": "series", "type": "nominal", "legend": null}
        }}
      ]
    },
    {
      "title": {"text": "WL", "subtitle": "n = 8 from 4 litters"},
      "width": 159, "height": 144,
      "transform": [{"filter": "datum.strain == 'WL'"}],
      "encoding": {
        "x": {"field": "day", "type": "quantitative", "scale": {"domain": [0.64, 10.36], "nice": false, "zero": false}, "title": null},
        "y": {"field": "mean", "type": "quantitative", "scale": {"domain": [-2.4, 62.4], "nice": false, "zero": false}, "title": null}
      },
      "layer": [
        {"mark": {"type": "line", "strokeWidth": 1}, "encoding": {"color": {"field": "series", "type": "nominal", "legend": null}}},
        {"mark": {"type": "rule", "strokeWidth": 1}, "encoding": {"y2": {"field": "upper"}, "color": {"field": "series", "type": "nominal", "legend": null}}},
        {"mark": {"type": "tick", "orient": "horizontal", "size": 4, "thickness": 1}, "encoding": {"y": {"field": "upper", "type": "quantitative", "scale": {"domain": [-2.4, 62.4], "nice": false, "zero": false}, "title": null}, "color": {"field": "series", "type": "nominal", "legend": null}}},
        {"mark": {"type": "point", "filled": true, "opacity": 1, "size": 28, "strokeWidth": 1}, "encoding": {
          "shape": {"field": "series", "type": "nominal", "legend": null},
          "fill": {"field": "series", "type": "nominal", "legend": null},
          "stroke": {"field": "series", "type": "nominal", "legend": null}
        }}
      ]
    }
  ],
  "config": {
    "font": "Liberation Sans",
    "background": "white",
    "view": {"stroke": "#555555", "strokeWidth": 1},
    "range": {"category": ["#1a1a1a", "#8c8c8c", "#8b1a1a"]},
    "axis": {"grid": false, "domain": false, "tickColor": "#444444", "tickSize": 4, "labelFontSize": 10.5, "labelColor": "#222222", "labelFont": "Liberation Sans"},
    "axisX": {"tickCount": 5, "labelPadding": 3},
    "axisY": {"tickCount": 7, "labelAngle": 270, "labelAlign": "center", "labelBaseline": "bottom", "labelPadding": 3},
    "title": {"frame": "group", "fontSize": 9.5, "fontWeight": "bold", "color": "#000000", "subtitleFontSize": 10.4, "subtitleColor": "#000000", "subtitleFont": "Liberation Sans", "subtitlePadding": 0, "offset": 1, "anchor": "middle"}
  }
}
